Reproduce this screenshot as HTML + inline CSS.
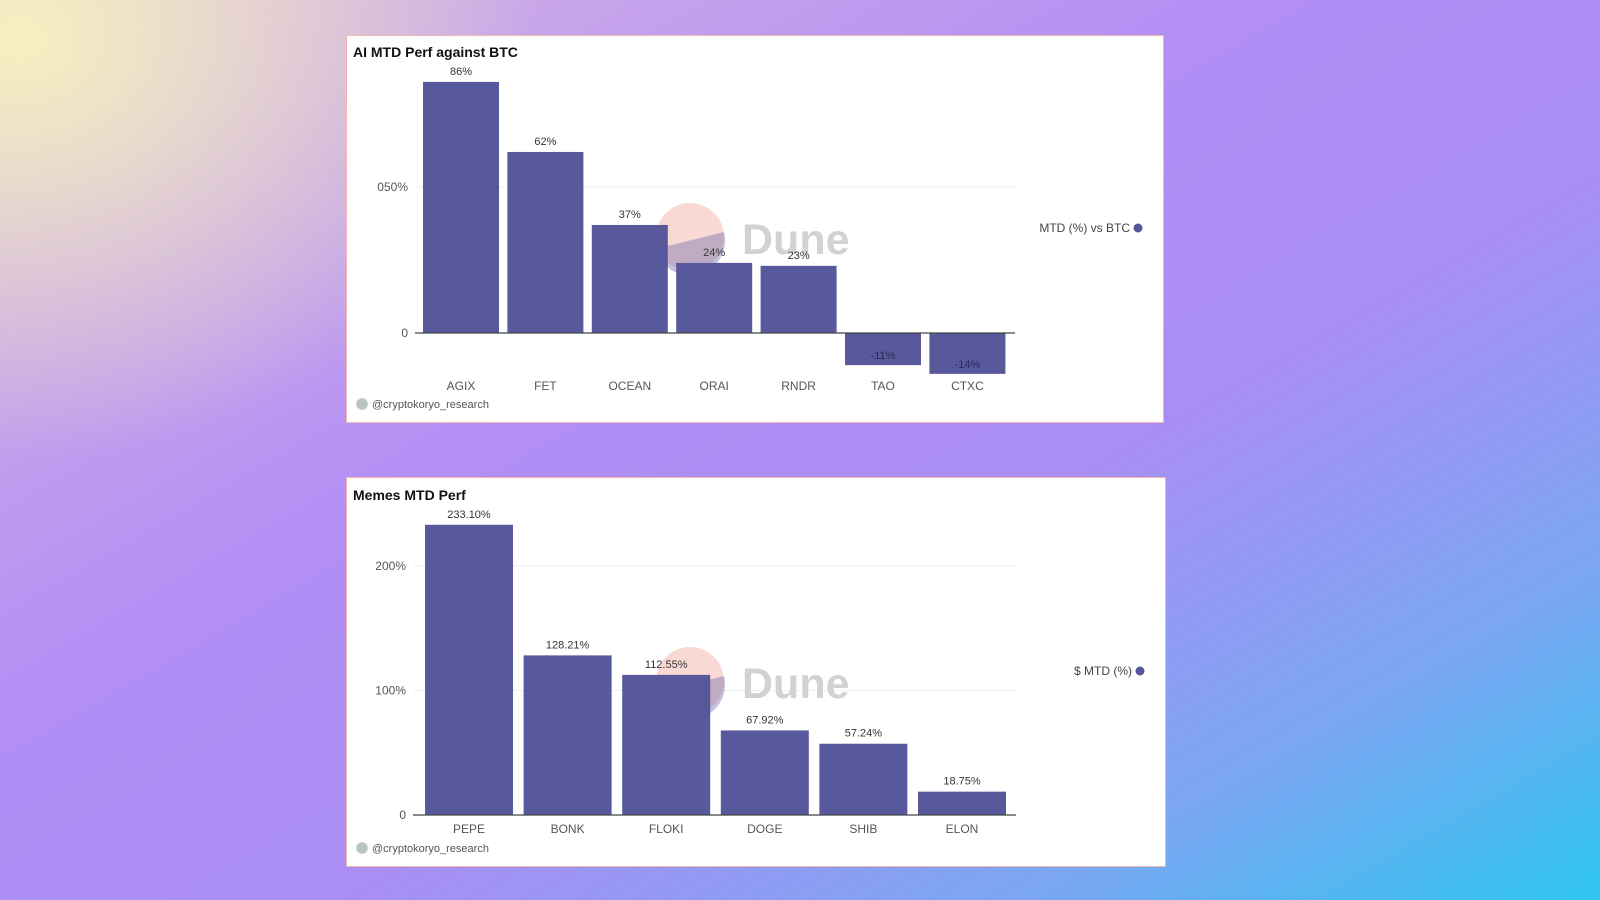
<!DOCTYPE html>
<html><head><meta charset="utf-8"><style>
body{margin:0;width:1600px;height:900px;overflow:hidden;font-family:"Liberation Sans",sans-serif;
background:radial-gradient(ellipse 520px 420px at 20px 40px,#f6f0c0 0%,rgba(246,240,192,0.6) 40%,rgba(246,240,192,0) 100%),linear-gradient(150deg,#d9b8e0 0%,#b28ef5 40%,#a98ef4 60%,#7aa6f2 82%,#2ec6ef 100%);}
.card{position:absolute;background:#fff;border:1px solid #f0b8b0;}
svg{position:absolute;left:0;top:0}
text{font-family:"Liberation Sans",sans-serif}
</style></head><body>
<div class="card" style="left:346px;top:35px;width:816px;height:386px"></div>
<div class="card" style="left:346px;top:477px;width:818px;height:388px"></div>
<svg id="s" width="1600" height="900"></svg>
<script>
const aiCats=["AGIX","FET","OCEAN","ORAI","RNDR","TAO","CTXC"];
const aiVals=[86,62,37,24,23,-11,-14];
const aiLabels=["86%","62%","37%","24%","23%","-11%","-14%"];
const aiTicks=[0,50];
const aiTickLabels=["0","050%"];
const memeCats=["PEPE","BONK","FLOKI","DOGE","SHIB","ELON"];
const memeVals=[233.10,128.21,112.55,67.92,57.24,18.75];
const memeLabels=["233.10%","128.21%","112.55%","67.92%","57.24%","18.75%"];
const memeTicks=[0,100,200];
const memeTickLabels=["0","100%","200%"];

const svg=document.getElementById('s');
const NS="http://www.w3.org/2000/svg";
function mk(t,a,txt){const e=document.createElementNS(NS,t);for(const k in a)e.setAttribute(k,a[k]);if(txt!=null)e.textContent=txt;svg.appendChild(e);return e;}

function chart(o){
  const y=v=>o.zeroY-v*o.ppu;
  const band=o.pitch;
  const bw=o.bw;
  const t=mk('text',{x:o.cardX+7,y:o.titleY,'font-size':14,fill:'#111','font-weight':'bold'},o.title);
  
  o.ticks.forEach((v,i)=>{
    if(v!==0){const g=mk('line',{x1:o.x0,x2:o.x1,y1:y(v),y2:y(v),stroke:'#eeeeee','stroke-width':1});
      }
    const l=mk('text',{x:o.x0-7,y:y(v)+4,'font-size':12,fill:'#555','text-anchor':'end'},o.tickLabels[i]);
    
  });
  const c1=mk('circle',{cx:o.wmX,cy:o.wmY,r:34,fill:'#f8c8c0',opacity:0.7});
  
  const c2=mk('path',{d:`M ${o.wmX-34} ${o.wmY+12} L ${o.wmX+34} ${o.wmY-5} A 34 34 0 0 1 ${o.wmX-34} ${o.wmY+12} Z`,fill:'#6a6ab0',opacity:0.4});
  
  const w=mk('text',{x:o.wmX+52,y:o.wmY+17,'font-size':43,'font-weight':'bold',fill:'#d2d2d2'},'Dune');
  
  o.vals.forEach((v,i)=>{
    const bx=o.barStart+band*i;
    const top=Math.min(y(v),y(0)),h=Math.abs(y(v)-y(0));
    const r=mk('rect',{x:bx,y:top,width:bw,height:h,fill:'#55559a',opacity:0.98});
    
    const ly=v>=0?y(v)-7:y(v)-6;
    const vl=mk('text',{x:bx+bw/2,y:ly,'font-size':11,fill:v>=0?'#333':'#2a2a55','text-anchor':'middle'},o.labels[i]);
    
    const cl=mk('text',{x:bx+bw/2,y:o.catY,'font-size':12,fill:'#555','text-anchor':'middle'},o.cats[i]);
    
  });
  const ax=mk('line',{x1:o.x0,x2:o.x1,y1:y(0),y2:y(0),stroke:'#444','stroke-width':1.3});
  
  const lg=mk('text',{x:o.legX-8,y:o.legY+4,'font-size':12,fill:'#444','text-anchor':'end'},o.legend);
  
  const ld=mk('circle',{cx:o.legX,cy:o.legY,r:4.5,fill:'#55559a'});
  
  const fi=mk('circle',{cx:o.cardX+16,cy:o.footY-4,r:5.5,fill:'#b8c4c0',stroke:'#ccc'});
  
  const ft=mk('text',{x:o.cardX+26,y:o.footY,'font-size':11,fill:'#555'},'@cryptokoryo_research');
  
}
chart({title:'AI MTD Perf against BTC',cats:aiCats,vals:aiVals,labels:aiLabels,ticks:aiTicks,tickLabels:aiTickLabels,
  cardX:346,titleY:57,zeroY:333,ppu:2.92,x0:415,x1:1015,barStart:423,pitch:84.4,bw:76,catY:390,wmX:690,wmY:237,
  legend:'MTD (%) vs BTC',legX:1138,legY:228,footY:408});
chart({title:'Memes MTD Perf',cats:memeCats,vals:memeVals,labels:memeLabels,ticks:memeTicks,tickLabels:memeTickLabels,
  cardX:346,titleY:500,zeroY:815,ppu:1.245,x0:413,x1:1016,barStart:425,pitch:98.6,bw:88,catY:833,wmX:690,wmY:681,
  legend:'$ MTD (%)',legX:1140,legY:671,footY:852});
</script>
</body></html>
